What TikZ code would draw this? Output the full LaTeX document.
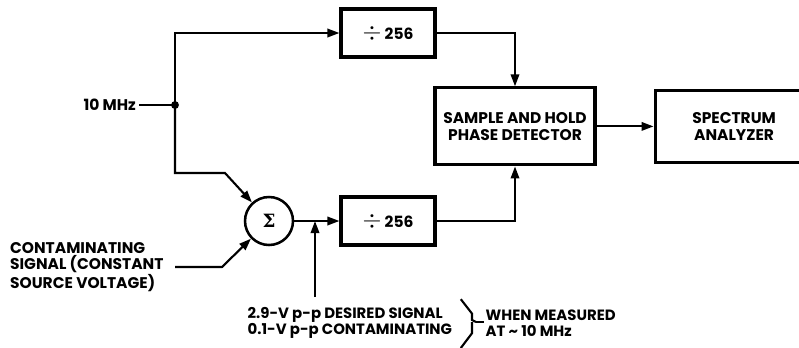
\documentclass[tikz,border=0pt]{standalone}
\usepackage{fontspec}
\setmainfont{Poppins}
\newfontfamily\greekfont{DejaVu Serif}
\usetikzlibrary{arrows.meta,positioning}

\begin{document}
\begin{tikzpicture}[node distance=1.4cm, every node/.style={font=\fontsize{11}{11.6}\selectfont\bfseries}]
\tikzset{block/.style={draw, line width=2.2pt, minimum width=2.35cm, minimum height=1.2cm, align=center}}
\tikzset{bigblock/.style={draw, line width=2.2pt, minimum width=4cm, minimum height=1.925cm, align=center}}
\tikzset{summer/.style={draw, circle, line width=1.8pt, minimum size=1.2cm, inner sep=0pt}}
\tikzset{note/.style={align=left, anchor=west, font=\fontsize{10.6}{11.4}\selectfont\bfseries}}
\tikzset{arrow/.style={-{Triangle[length=3mm,width=2.1mm]}, line width=1.5pt}}
\tikzset{wire/.style={line width=1.5pt}}
\newcommand{\divsign}{{\fontsize{19}{19}\selectfont$\div$}}
\useasboundingbox (0,0) rectangle (19.975,-8.675);
\clip (0,0) rectangle (19.975,-8.675);
% blocks
\node[block] (divtop) at (9.7,-0.825) {\divsign\ 256};
\node[block] (divbot) at (9.7,-5.525) {\divsign\ 256};
\node[summer] (sigma) at (6.725,-5.525) {\greekfont\fontsize{13}{13}\selectfont Σ};
\node[bigblock] (shpd) at (12.875,-3.16) {SAMPLE AND HOLD\\PHASE DETECTOR};
\node[bigblock, minimum width=3.95cm, minimum height=1.8cm, right=1.425cm of shpd] (spec) {SPECTRUM\\ANALYZER};
% reference input
\coordinate (split) at (4.375,-2.625);
\node[left=0.9cm of split, inner sep=2pt] (ref) {10 MHz};
\fill (split) circle (2.8pt);
\draw[wire] (ref) -- (split);
\draw[arrow] (split) |- (divtop);
\draw[arrow] (split) -- ++(0,-1.7) -- ++(1.25,0) -- (sigma);
% contaminating input
\coordinate (bend) at (5.55,-6.675);
\node[left=1.175cm of bend, inner xsep=8pt, align=left] (contam) {CONTAMINATING\\SIGNAL (CONSTANT\\SOURCE VOLTAGE)};
\draw[arrow] (contam) -- (bend) -- (sigma);
\draw[arrow] (sigma) -- (divbot);
% injection point
\coordinate (inj) at (7.875,-7.425);
\draw[arrow] (inj) -- (inj |- sigma);
% to detector
\draw[arrow] (divtop) -| (shpd);
\draw[arrow] (divbot) -| (shpd);
\draw[arrow] (shpd) -- (spec);
% levels note
\node[note, inner sep=1pt] (levels) at (6.15,-8.075) {2.9-V p-p DESIRED SIGNAL\\0.1-V p-p CONTAMINATING};
\coordinate (bracetip) at (11.9,-8.05);
\draw[wire] (11.52,-7.48) -- (11.8,-7.84) -- (11.8,-8.0) -- (bracetip)
  (11.8,-8.05) -- (11.8,-8.33) -- (11.52,-8.7);
\node[note, inner xsep=1pt] (when) at (12.1,-8.075) {WHEN MEASURED\\AT \textasciitilde\ 10 MHz};
\draw[wire] (bracetip) -- (when.west |- bracetip);
\end{tikzpicture}
\end{document}
